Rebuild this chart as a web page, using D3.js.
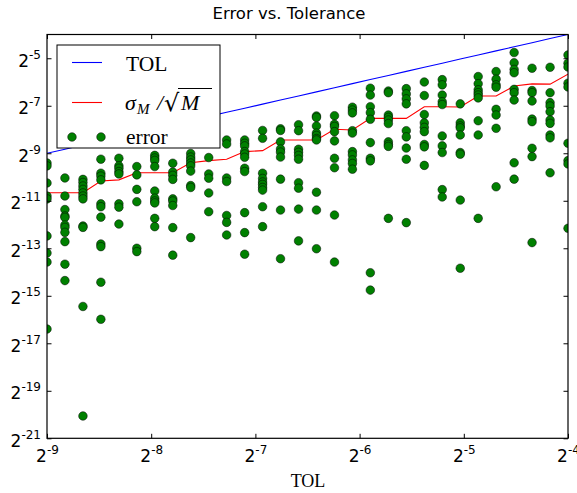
<!DOCTYPE html>
<html>
<head>
<meta charset="utf-8">
<script src="https://cdn.jsdelivr.net/npm/d3@7"></script>
<style>
  body { margin: 0; background: #fff; }
  svg { display: block; }
</style>
</head>
<body>
<svg id="chart" width="577" height="493"></svg>
<script>
// log2 of each tolerance level (30 levels between 2^-9 and 2^-4)
const tolExp = [-9.000, -8.828, -8.655, -8.483, -8.310, -8.138, -7.966, -7.793, -7.621, -7.448,
                -7.276, -7.103, -6.931, -6.759, -6.586, -6.414, -6.241, -6.069, -5.897, -5.724,
                -5.552, -5.379, -5.207, -5.034, -4.862, -4.690, -4.517, -4.345, -4.172, -4.000];

// log2 of the sigma_M / sqrt(M) estimate at each tolerance
const sigmaExp = [-10.66, -10.66, -10.66, -10.17, -10.12, -9.82, -9.82, -9.82, -9.40, -9.31,
                  -9.25, -8.93, -8.89, -8.44, -8.44, -8.44, -7.99, -8.02, -7.53, -7.53,
                  -7.53, -7.04, -7.04, -7.05, -6.59, -6.59, -6.17, -6.08, -6.09, -5.67];

// log2 of the observed errors, one list of runs per tolerance level
const errorExp = [
  [-9.41, -9.53, -10.25, -10.80, -10.92, -12.48, -13.20, -13.58, -16.40],
  [-10.04, -10.80, -11.37, -11.64, -11.70, -12.02, -12.12, -12.33, -12.72, -13.67, -14.36],
  [-10.10, -10.23, -10.38, -10.52, -10.67, -10.80, -10.92, -12.06, -12.12, -15.45, -20.06],
  [-9.25, -9.84, -9.96, -10.12, -11.13, -11.25, -11.69, -12.82, -12.93, -14.43, -15.99],
  [-9.21, -9.53, -9.63, -9.77, -9.87, -11.13, -11.27, -11.98],
  [-9.56, -9.91, -10.52, -11.04, -13.00, -13.14],
  [-9.09, -9.20, -9.30, -9.56, -10.59, -10.89, -11.01, -11.09, -11.74, -12.09],
  [-9.42, -9.79, -9.93, -10.10, -10.92, -11.01, -11.20, -12.13, -13.29],
  [-9.01, -9.16, -9.28, -9.41, -9.53, -9.75, -10.36, -10.44, -12.55],
  [-9.18, -9.87, -10.05, -10.67, -11.46],
  [-8.44, -8.61, -10.04, -10.19, -11.62, -11.91, -12.44],
  [-8.44, -8.58, -8.69, -8.93, -9.03, -9.17, -9.63, -9.77, -11.50, -12.34, -13.25],
  [-8.04, -8.37, -9.84, -10.06, -10.21, -10.31, -10.44, -10.55, -11.25, -12.09],
  [-7.97, -8.04, -8.52, -8.82, -8.95, -9.16, -10.09, -11.39, -13.44],
  [-7.80, -8.05, -8.83, -8.96, -9.09, -9.25, -10.24, -10.47, -11.35, -12.69],
  [-7.43, -7.49, -7.85, -8.15, -8.25, -8.38, -8.44, -10.64, -11.39, -13.02],
  [-7.42, -7.78, -7.87, -8.09, -8.48, -9.21, -9.61, -11.60, -13.58],
  [-7.06, -7.18, -7.30, -8.05, -8.15, -8.93, -9.07, -9.28, -9.43, -9.67],
  [-6.26, -6.55, -7.04, -7.29, -7.57, -8.55, -9.21, -9.32, -14.03, -14.76],
  [-6.38, -6.45, -7.39, -7.49, -7.60, -7.75, -8.52, -8.63, -8.71, -11.74],
  [-6.28, -6.50, -6.71, -6.92, -8.05, -8.31, -8.78, -9.25, -11.92],
  [-6.00, -6.57, -7.37, -7.72, -7.91, -8.09, -8.63, -8.73, -9.51],
  [-5.90, -6.12, -6.55, -6.83, -6.95, -8.27, -8.69, -8.97, -10.53, -10.84],
  [-6.92, -7.72, -7.85, -7.93, -8.23, -8.97, -9.04, -10.97, -13.84],
  [-5.77, -6.07, -6.33, -6.45, -6.55, -6.67, -7.63, -8.23, -11.74],
  [-5.56, -5.88, -6.12, -6.22, -7.15, -7.39, -7.95, -10.41],
  [-4.76, -5.19, -5.47, -5.61, -6.31, -6.45, -6.76, -9.40, -10.09],
  [-5.42, -6.36, -6.45, -6.80, -7.56, -7.67, -8.79, -9.14, -12.76],
  [-5.38, -6.45, -6.87, -7.01, -7.25, -7.60, -7.74, -8.23, -8.35, -9.82],
  [-4.86, -5.21, -5.37, -6.05, -6.21, -8.58, -9.31, -9.45, -12.16]
];

const xTickExp = [-9, -8, -7, -6, -5, -4];
const yTickExp = [-5, -7, -9, -11, -13, -15, -17, -19, -21];
const xDomainExp = [-9, -4];
const yDomainExp = [-21, -4];

const titleText = "Error vs. Tolerance";
const xLabelText = "TOL";

(function draw() {
  const pLeft = 47, pRight = 568, pTop = 34.5, pBottom = 438.3;
  const sansFont = "'DejaVu Sans', sans-serif";
  const serifFont = "'Liberation Serif', 'Times New Roman', serif";

  const svg = d3.select("#chart");

  const x = d3.scaleLog().base(2)
    .domain(xDomainExp.map(e => Math.pow(2, e)))
    .range([pLeft, pRight]);
  const y = d3.scaleLog().base(2)
    .domain(yDomainExp.map(e => Math.pow(2, e)))
    .range([pBottom, pTop]);

  // clip region for the plotted marks
  svg.append("defs").append("clipPath").attr("id", "plot-clip")
    .append("rect")
    .attr("x", pLeft).attr("y", pTop)
    .attr("width", pRight - pLeft).attr("height", pBottom - pTop);

  const plot = svg.append("g").attr("clip-path", "url(#plot-clip)");

  const tolVals = tolExp.map(e => Math.pow(2, e));

  // TOL reference line
  plot.append("path")
    .datum(tolVals)
    .attr("d", d3.line().x(d => x(d)).y(d => y(d)))
    .attr("fill", "none")
    .attr("stroke", "#0000ff")
    .attr("stroke-width", 1.1);

  // sigma_M / sqrt(M) line
  plot.append("path")
    .datum(sigmaExp)
    .attr("d", d3.line().x((d, i) => x(tolVals[i])).y(d => y(Math.pow(2, d))))
    .attr("fill", "none")
    .attr("stroke", "#ff0000")
    .attr("stroke-width", 1.1);

  // observed errors
  const points = [];
  errorExp.forEach((runs, i) => runs.forEach(e => points.push({ tol: tolVals[i], err: Math.pow(2, e) })));
  plot.selectAll("circle.err")
    .data(points)
    .join("circle")
    .attr("class", "err")
    .attr("cx", d => x(d.tol))
    .attr("cy", d => y(d.err))
    .attr("r", 4.3)
    .attr("fill", "#008000")
    .attr("stroke", "#000")
    .attr("stroke-width", 0.5);

  // axes: ticks point inward on all four sides
  const tickLen = 4.5;
  const xTicks = xTickExp.map(e => Math.pow(2, e));
  const yTicks = yTickExp.map(e => Math.pow(2, e));

  function styleAxis(g) {
    g.select(".domain").remove();
    g.selectAll(".tick line").attr("stroke", "#000").attr("stroke-width", 1);
  }

  function powerLabel(t, d) {
    const ex = Math.round(Math.log2(d));
    t.text(null).attr("font-family", sansFont).attr("fill", "#000");
    t.append("tspan").attr("font-size", 17).text("2");
    t.append("tspan").attr("font-size", 12).attr("dy", -8).text(String(ex));
  }

  const axB = svg.append("g").attr("transform", `translate(0,${pBottom})`)
    .call(d3.axisBottom(x).tickValues(xTicks).tickSizeInner(-tickLen).tickSizeOuter(0))
    .call(styleAxis);
  axB.selectAll(".tick text").each(function (d) {
    const t = d3.select(this);
    powerLabel(t, d);
    t.attr("y", 24).attr("dy", null).attr("text-anchor", "middle");
  });

  svg.append("g").attr("transform", `translate(0,${pTop})`)
    .call(d3.axisTop(x).tickValues(xTicks).tickSizeInner(-tickLen).tickSizeOuter(0).tickFormat(""))
    .call(styleAxis);

  const axL = svg.append("g").attr("transform", `translate(${pLeft},0)`)
    .call(d3.axisLeft(y).tickValues(yTicks).tickSizeInner(-tickLen).tickSizeOuter(0))
    .call(styleAxis);
  axL.selectAll(".tick text").each(function (d) {
    const t = d3.select(this);
    powerLabel(t, d);
    t.attr("x", -6).attr("dy", 8).attr("text-anchor", "end");
  });

  svg.append("g").attr("transform", `translate(${pRight},0)`)
    .call(d3.axisRight(y).tickValues(yTicks).tickSizeInner(-tickLen).tickSizeOuter(0).tickFormat(""))
    .call(styleAxis);

  // frame
  svg.append("rect")
    .attr("x", pLeft).attr("y", pTop)
    .attr("width", pRight - pLeft).attr("height", pBottom - pTop)
    .attr("fill", "none").attr("stroke", "#000").attr("stroke-width", 1.2);

  // title and axis label
  svg.append("text")
    .attr("x", 289).attr("y", 19)
    .attr("text-anchor", "middle")
    .attr("font-family", sansFont).attr("font-size", 16.5)
    .text(titleText);

  svg.append("text")
    .attr("x", 308).attr("y", 487)
    .attr("text-anchor", "middle")
    .attr("font-family", serifFont).attr("font-size", 18)
    .text(xLabelText);

  // legend
  const lg = svg.append("g");
  lg.append("rect")
    .attr("x", 57).attr("y", 45).attr("width", 163).attr("height", 103)
    .attr("fill", "#fff").attr("stroke", "#000").attr("stroke-width", 1);

  lg.append("line").attr("x1", 72).attr("x2", 102).attr("y1", 62.5).attr("y2", 62.5)
    .attr("stroke", "#0000ff").attr("stroke-width", 1.1);
  lg.append("text").attr("x", 126).attr("y", 70.5)
    .attr("font-family", serifFont).attr("font-size", 21.5).text("TOL");

  lg.append("line").attr("x1", 72).attr("x2", 102).attr("y1", 102.5).attr("y2", 102.5)
    .attr("stroke", "#ff0000").attr("stroke-width", 1.1);
  const sg = lg.append("g").attr("font-family", serifFont);
  sg.append("text").attr("x", 125).attr("y", 110).attr("font-size", 22).attr("font-style", "italic").text("σ");
  sg.append("text").attr("x", 137).attr("y", 114).attr("font-size", 15).attr("font-style", "italic").text("M");
  sg.append("text").attr("x", 157).attr("y", 110).attr("font-size", 22).attr("font-style", "italic").text("/");
  sg.append("text").attr("x", 164).attr("y", 111).attr("font-size", 24).attr("font-family", "'DejaVu Serif', serif").text("√");
  sg.append("text").attr("x", 181).attr("y", 110).attr("font-size", 22).attr("font-style", "italic").text("M");
  sg.append("line").attr("x1", 178).attr("x2", 212).attr("y1", 88.5).attr("y2", 88.5)
    .attr("stroke", "#000").attr("stroke-width", 1);

  [72, 101].forEach(cx => {
    lg.append("circle").attr("cx", cx).attr("cy", 137).attr("r", 4.3)
      .attr("fill", "#008000").attr("stroke", "#000").attr("stroke-width", 0.5);
  });
  lg.append("text").attr("x", 126).attr("y", 144)
    .attr("font-family", serifFont).attr("font-size", 21.5).text("error");
})();
</script>
</body>
</html>
